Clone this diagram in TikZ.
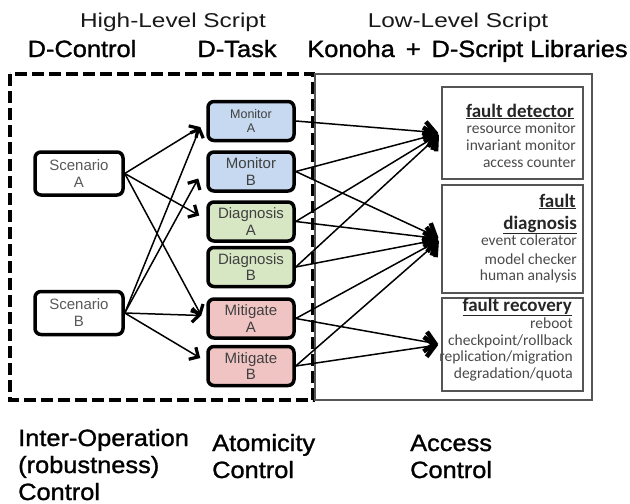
\documentclass[tikz,border=0pt]{standalone}
\usepackage{fontspec}
\setmainfont{Liberation Sans}
\newfontfamily\libfont{Carlito}
\newfontfamily\headfont[FakeStretch=1.22]{Liberation Sans}
\newfontfamily\semibold[FakeBold=1.2,FakeStretch=1.08]{Liberation Sans}
\usetikzlibrary{arrows.meta,calc}

\definecolor{monblue}{HTML}{C6D9F0}
\definecolor{diaggreen}{HTML}{D7E6C3}
\definecolor{mitred}{HTML}{F1C4C4}
\definecolor{boxgray}{HTML}{555555}
\definecolor{libtext}{HTML}{4A4A4A}

\tikzset{
  heading/.style={anchor=base, inner sep=0pt, text=black!90, font=\headfont\fontsize{20}{24}\selectfont},
  subheading/.style={anchor=base, inner sep=0pt, font=\semibold\fontsize{23.5}{28}\selectfont},
  footlabel/.style={anchor=base west, inner sep=0pt, font=\semibold\fontsize{23.5}{28}\selectfont},
  scenario/.style={draw=black, line width=3.5pt, rounded corners=6pt, fill=white,
    minimum width=88pt, minimum height=43pt, align=center, inner sep=0pt,
    text=black!65, font=\fontsize{15}{17}\selectfont},
  task/.style={draw=black, line width=3.5pt, rounded corners=6pt,
    minimum width=86pt, minimum height=39pt, align=center, inner sep=0pt,
    text=black!75, font=\fontsize{15}{16.5}\selectfont},
  libbox/.style={draw=boxgray, line width=1.6pt, minimum width=141pt, inner sep=0pt},
  libhead/.style={anchor=base east, inner sep=0pt, text=black!85,
    font=\libfont\bfseries\fontsize{19}{22}\selectfont},
  libitem/.style={anchor=base east, inner sep=0pt, text=libtext,
    font=\libfont\fontsize{15.5}{18}\selectfont},
  conn/.style={line width=1.5pt,
    -{Straight Barb[length=7pt,width=14pt,line width=3.2pt]}},
  libconn/.style={line width=1.5pt, shorten >=3pt,
    -{Straight Barb[length=10pt,width=20pt,line width=4.5pt]}},
}

\begin{document}
\begin{tikzpicture}[x=1pt,y=-1pt]
\useasboundingbox (0,0) rectangle (630,504);
\fill[white] (0,0) rectangle (630,504);

% column headings
\node[heading] (hls) at (173,27) {High-Level Script};
\node[heading] (lls) at (458,27) {Low-Level Script};
\node[subheading] (dctl) at (82,57) {D-Control};
\node[subheading] (dtask) at (237,57) {D-Task};
\node[subheading] (konoha) at (467.5,57) {Konoha\, +\, D-Script Libraries};

% high-level (dashed) and low-level (solid) frames
\draw[line width=4pt, dash pattern=on 12pt off 5pt] (10,74) rectangle (313,400);
\draw[draw=boxgray, line width=1.6pt] (315,74) rectangle (592,400);

% scenarios
\node[scenario] (scA) at (79,173.5) {Scenario\\A};
\node[scenario] (scB) at (79,313) {Scenario\\B};

% tasks
\node[task, fill=monblue, font=\fontsize{12.5}{14}\selectfont] (monA) at (251,121) {Monitor\\A};
\node[task, fill=monblue] (monB) at (251,171.5) {Monitor\\B};
\node[task, fill=diaggreen] (diagA) at (251,221.5) {Diagnosis\\A};
\node[task, fill=diaggreen] (diagB) at (251,267) {Diagnosis\\B};
\node[task, fill=mitred] (mitA) at (251,318.5) {Mitigate\\A};
\node[task, fill=mitred] (mitB) at (251,366) {Mitigate\\B};

% libraries
\node[libbox, minimum height=92pt] (det) at (512.5,133) {};
\node[libbox, minimum height=108pt] (diag) at (512.5,239) {};
\node[libbox, minimum height=93pt] (rec) at (512.5,344.5) {};

\node[libhead] (detH) at (574,117) {\underline{fault detector}};
\node[libitem] (det1) at (576,133) {resource monitor};
\node[libitem] (det2) at (576,150) {invariant monitor};
\node[libitem] (det3) at (576,167) {access counter};

\node[libhead] (diagH1) at (576,207) {\underline{fault}};
\node[libhead] (diagH2) at (577,229) {\underline{diagnosis}};
\node[libitem] (diag1) at (577,245) {event colerator};
\node[libitem] (diag2) at (577,264) {model checker};
\node[libitem] (diag3) at (577,280) {human analysis};

\node[libhead] (recH) at (572,311) {\underline{fault recovery}};
\node[libitem] (rec1) at (573,328) {reboot};
\node[libitem] (rec2) at (573,345) {checkpoint/rollback};
\node[libitem] (rec3) at (573,361) {replication/migration};
\node[libitem] (rec4) at (573,378) {degradation/quota};

% scenario -> task
\draw[conn] (scA.east) -- ($(monA.west)+(-6,6)$);
\draw[conn] (scA.east) -- ($(diagA.west)+(-7,-6)$);
\draw[conn] (scA.east) -- ($(mitA.west)+(-5,-3)$);
\draw[conn] (scB.east) -- ($(monA.west)+(-6,6)$);
\draw[conn] (scB.east) -- ($(monB.west)+(-8,7)$);
\draw[conn] (scB.east) -- ($(mitA.west)+(-5,-3)$);
\draw[conn] (scB.east) -- ($(mitB.west)+(-6,-8)$);

% task -> library
\draw[libconn] (monA.east) -- (det.west);
\draw[libconn] (monB.east) -- (det.west);
\draw[libconn] (monB.east) -- (diag.west);
\draw[libconn] (diagA.east) -- (det.west);
\draw[libconn] (diagA.east) -- (diag.west);
\draw[libconn] (diagB.east) -- (det.west);
\draw[libconn] (diagB.east) -- (diag.west);
\draw[libconn] (mitA.east) -- (diag.west);
\draw[libconn] (mitA.east) -- (rec.west);
\draw[libconn] (mitB.east) -- (diag.west);
\draw[libconn] (mitB.east) -- (rec.west);

% control layers
\node[footlabel] (io1) at (18,446) {Inter-Operation};
\node[footlabel] (io2) at (18,473) {(robustness)};
\node[footlabel] (io3) at (18,500) {Control};
\node[footlabel] (at1) at (212,451) {Atomicity};
\node[footlabel] (at2) at (212,478) {Control};
\node[footlabel] (ac1) at (410,451) {Access};
\node[footlabel] (ac2) at (410,478) {Control};
\end{tikzpicture}
\end{document}
